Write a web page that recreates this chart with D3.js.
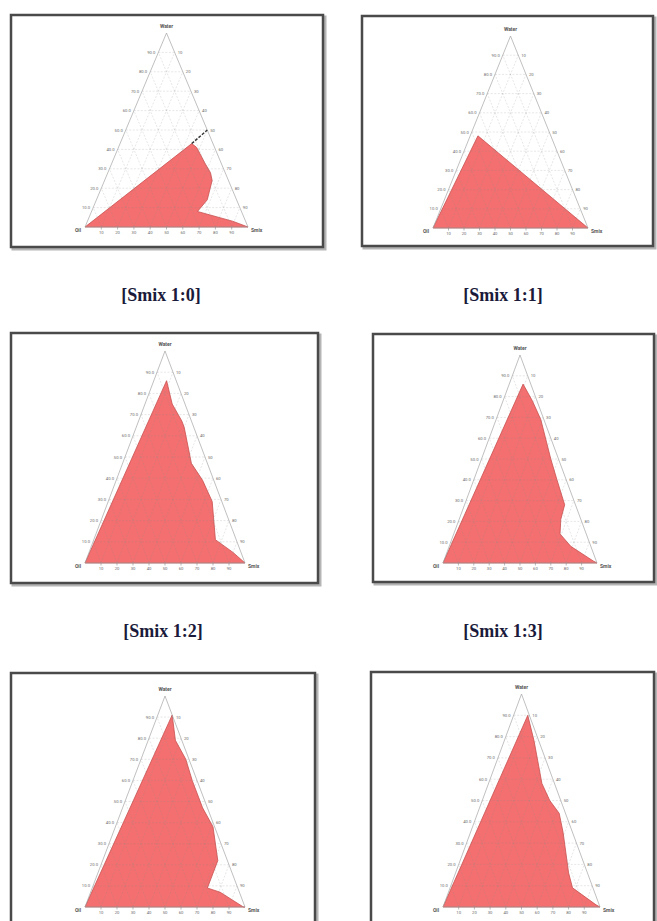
<!DOCTYPE html>
<html>
<head>
<meta charset="utf-8">
<script src="https://cdn.jsdelivr.net/npm/d3@7"></script>
<style>
  html, body { margin: 0; padding: 0; background: #ffffff; }
  svg { display: block; }
</style>
</head>
<body>
<svg id="chart" width="657" height="921"></svg>
<script>
// ---------------- DATA ----------------
const panelTitles = ["[Smix 1:0]", "[Smix 1:1]", "[Smix 1:2]", "[Smix 1:3]", "", ""];
const cornerLabels = ["Water", "Oil", "Smix"];     // top, bottom-left, bottom-right
const gridLevels = [10, 20, 30, 40, 50, 60, 70, 80, 90];
const leftTickLabels = ["10.0", "20.0", "30.0", "40.0", "50.0", "60.0", "70.0", "80.0", "90.0"];
const rightTickLabels = ["90", "80", "70", "60", "50", "40", "30", "20", "10"];
const bottomTickLabels = ["10", "20", "30", "40", "50", "60", "70", "80", "90"];

// boundary of the emulsion region, points as [water, oil, smix] (%)
const region_1_0 = [[0,100,0],[43,13,44],[41,11,48],[33,10,57],[28,9,63],[24,10,66],[14,18,68],[8,27,65],[3,8,89],[0,0,100]];
const region_1_1 = [[0,100,0],[48,47,5],[0,0,100]];
const region_1_2 = [[0,100,0],[86,6,8],[75,8,17],[67,6,27],[64,6,30],[47,10,43],[39,7,54],[29,6,65],[11,13,76],[5,5,90],[0,0,100]];
const region_1_3 = [[0,100,0],[86,5,9],[78,3,19],[69,2,29],[50,5,45],[40,6,54],[28,7,65],[21,13,66],[14,17,69],[8,13,79],[1,2,97],[0,0,100]];
const region_1_4 = [[0,100,0],[91,0,9],[79,4,17],[70,2,28],[60,3,37],[47,3,50],[38,1,61],[22,6,72],[16,12,72],[9,19,72],[7,12,81],[0,1,99],[0,0,100]];
const region_1_5 = [[0,100,0],[90,1,9],[78,3,19],[58,8,34],[50,7,43],[44,4,52],[35,6,59],[16,12,72],[9,13,78],[1,2,97],[0,0,100]];
const regions = [region_1_0, region_1_1, region_1_2, region_1_3, region_1_4, region_1_5];
// short tie-line marked in the first diagram
const tieLine_1_0 = [[43,13,44],[50,0,50]];

// ---------------- LAYOUT ----------------
const layout = [
  {fx:11,  fy:15,  fw:312, fh:232, left:85,  right:248, base:227, apex:33,  tx:161, ty:301},
  {fx:362, fy:16,  fw:291, fh:230, left:433, right:588, base:228, apex:36,  tx:503, ty:301},
  {fx:11,  fy:333, fw:307, fh:250, left:85,  right:245, base:563, apex:351, tx:163, ty:637},
  {fx:373, fy:334, fw:281, fh:248, left:443, right:597, base:563, apex:355, tx:503, ty:637},
  {fx:11,  fy:673, fw:304, fh:262, left:85,  right:245, base:907, apex:696, tx:163, ty:960},
  {fx:371, fy:672, fw:283, fh:262, left:443, right:600, base:907, apex:694, tx:503, ty:960}
];

const svg = d3.select("#chart");

// titles
svg.selectAll("text.title")
  .data(panelTitles.slice(0, 4))
  .join("text")
  .attr("class", "title")
  .attr("x", (d, i) => layout[i].tx)
  .attr("y", (d, i) => layout[i].ty)
  .attr("text-anchor", "middle")
  .attr("font-family", "'Liberation Serif', 'DejaVu Serif', serif")
  .attr("font-weight", "bold")
  .attr("font-size", "18px")
  .attr("fill", "#1a1a3a")
  .text(d => d);

layout.forEach((L, i) => {
  const g = svg.append("g");
  // scales
  const yS = d3.scaleLinear().domain([0, 100]).range([L.base, L.apex]);
  const xS = d3.scaleLinear().domain([0, 100]).range([L.left, L.right]);
  const px = p => xS(p[2] + p[0] / 2);   // p = [water, oil, smix]
  const py = p => yS(p[0]);
  const line = d3.line().x(px).y(py);

  // frame (shadow + border)
  g.append("rect")
    .attr("x", L.fx + 2).attr("y", L.fy + 2).attr("width", L.fw).attr("height", L.fh)
    .attr("fill", "none").attr("stroke", "#b5b5b5").attr("stroke-width", 3);
  g.append("rect")
    .attr("x", L.fx).attr("y", L.fy).attr("width", L.fw).attr("height", L.fh)
    .attr("fill", "#ffffff").attr("stroke", "#4a4a4a").attr("stroke-width", 2.5);

  // region fill
  g.append("path")
    .attr("d", line(regions[i]) + "Z")
    .attr("fill", "#f46f6f")
    .attr("stroke", "#c85050")
    .attr("stroke-width", 0.8);

  // grid: horizontal (constant water), parallel to left edge (constant smix), parallel to right edge (constant oil)
  const gridG = g.append("g").attr("stroke", "#8a8a8a").attr("stroke-opacity", 0.35)
    .attr("stroke-width", 0.6).attr("stroke-dasharray", "2,1.5").attr("fill", "none");
  gridLevels.forEach(v => {
    gridG.append("path").attr("d", line([[v, 100 - v, 0], [v, 0, 100 - v]]));
    gridG.append("path").attr("d", line([[0, 100 - v, v], [100 - v, 0, v]]));
    gridG.append("path").attr("d", line([[0, v, 100 - v], [100 - v, v, 0]]));
  });

  // triangle edges
  g.append("path")
    .attr("d", line([[100, 0, 0], [0, 100, 0], [0, 0, 100]]) + "Z")
    .attr("fill", "none").attr("stroke", "#a5a5a5").attr("stroke-width", 0.7);

  // base ticks
  g.selectAll("line.btick").data(gridLevels).join("line")
    .attr("x1", v => px([0, 100 - v, v])).attr("x2", v => px([0, 100 - v, v]))
    .attr("y1", L.base).attr("y2", L.base + 2.5)
    .attr("stroke", "#888").attr("stroke-width", 0.6);

  const small = sel => sel.attr("font-family", "Roboto, 'DejaVu Sans', sans-serif")
    .attr("font-size", "4.2px").attr("fill", "#6a6a6a");

  // left edge labels
  small(g.selectAll("text.lt").data(gridLevels).join("text"))
    .attr("x", v => px([v, 100 - v, 0]) - 3).attr("y", v => py([v, 0, 0]) + 1.5)
    .attr("text-anchor", "end").text((v, k) => leftTickLabels[k]);
  // right edge labels
  small(g.selectAll("text.rt").data(gridLevels).join("text"))
    .attr("x", v => px([v, 0, 100 - v]) + 3).attr("y", v => py([v, 0, 0]) + 1.5)
    .attr("text-anchor", "start").text((v, k) => rightTickLabels[k]);
  // bottom labels
  small(g.selectAll("text.bt").data(gridLevels).join("text"))
    .attr("x", v => px([0, 100 - v, v])).attr("y", L.base + 7)
    .attr("text-anchor", "middle").text((v, k) => bottomTickLabels[k]);

  // corner labels
  const corner = sel => sel.attr("font-family", "Roboto, 'DejaVu Sans', sans-serif")
    .attr("font-size", "5px").attr("font-weight", "bold").attr("fill", "#555");
  corner(g.append("text")).attr("x", px([100, 0, 0])).attr("y", L.apex - 5)
    .attr("text-anchor", "middle").text(cornerLabels[0]);
  corner(g.append("text")).attr("x", L.left - 4).attr("y", L.base + 5)
    .attr("text-anchor", "end").text(cornerLabels[1]);
  corner(g.append("text")).attr("x", L.right + 3).attr("y", L.base + 5)
    .attr("text-anchor", "start").text(cornerLabels[2]);

  if (i === 0) {
    g.append("path").attr("d", line(tieLine_1_0))
      .attr("stroke", "#333").attr("stroke-width", 1.4).attr("stroke-dasharray", "3,1.5")
      .attr("fill", "none");
  }
});
</script>
</body>
</html>
